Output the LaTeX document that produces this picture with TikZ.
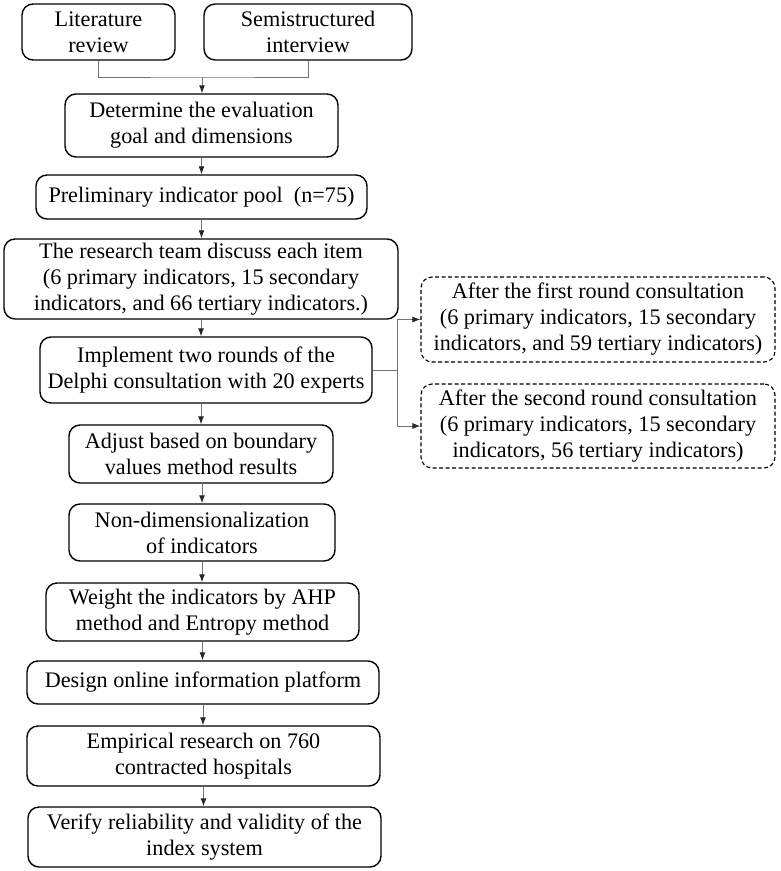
\documentclass[tikz,border=0pt]{standalone}
\usepackage{fontspec}
\setmainfont{Liberation Serif}
\usetikzlibrary{arrows.meta}

\tikzset{
	stage/.style={draw, rounded corners=11pt, line width=1.4pt, inner sep=0pt, align=center,
		font=\fontsize{22.2}{26}\selectfont},
	round/.style={stage, dashed, dash pattern=on 4pt off 2.5pt, line width=1.1pt},
	link/.style={draw=black!55, line width=1pt},
	flow/.style={link, -{Latex[length=8pt,width=6pt,color=black!85]}}
}

\begin{document}
\begin{tikzpicture}[x=1pt, y=-1pt]

	\useasboundingbox (0,0) rectangle (780,871);

	\node[stage, minimum width=153pt, minimum height=56pt] (lit) at (98.5,32) {Literature\\review};
	\node[stage, minimum width=208pt, minimum height=56pt] (semi) at (308,32) {Semistructured\\interview};
	\node[stage, minimum width=273pt, minimum height=63pt] (goal) at (201.5,125.5) {Determine the evaluation\\goal and dimensions};
	\node[stage, minimum width=331pt, minimum height=44pt] (pool) at (201.5,197) {Preliminary indicator pool\enspace(n=75)};
	\node[stage, minimum width=394pt, minimum height=80pt] (team) at (201,279) {The research team discuss each item\\(6 primary indicators, 15 secondary\\indicators, and 66 tertiary indicators.)};
	\node[stage, minimum width=332pt, minimum height=66pt] (delphi) at (206,370) {Implement two rounds of the\\Delphi consultation with 20 experts};
	\node[stage, minimum width=264pt, minimum height=58pt] (adjust) at (201,454) {Adjust based on boundary\\values method results};
	\node[stage, minimum width=266pt, minimum height=57pt] (nondim) at (202,532.5) {Non-dimensionalization\\of indicators};
	\node[stage, minimum width=313pt, minimum height=58pt] (weight) at (202.5,612) {Weight the indicators by AHP\\method and Entropy method};
	\node[stage, minimum width=352pt, minimum height=43pt] (design) at (203,682.5) {Design online information platform};
	\node[stage, minimum width=353pt, minimum height=60pt] (empir) at (203.5,756) {Empirical research on 760\\contracted hospitals};
	\node[stage, minimum width=353pt, minimum height=60pt] (verify) at (204.5,837) {Verify reliability and validity of the\\index system};

	\node[round, minimum width=354pt, minimum height=85pt] (first) at (598,319.5) {After the first round consultation\\(6 primary indicators, 15 secondary\\indicators, and 59 tertiary indicators)};
	\node[round, minimum width=354pt, minimum height=84pt] (second) at (598,426) {After the second round consultation\\(6 primary indicators, 15 secondary\\indicators, 56 tertiary indicators)};

	\coordinate (join) at (202,77);
	\draw[link] (lit.south) |- (join) -| (semi.south);
	\draw[flow] (join) -- (join |- goal.north);

	\draw[flow] (goal.south) -- (goal.south |- pool.north);
	\draw[flow] (pool.south) -- (pool.south |- team.north);
	\draw[flow] (team.south) -- (team.south |- delphi.north);
	\draw[flow] (adjust.north |- delphi.south) -- (adjust.north);
	\draw[flow] (nondim.north |- adjust.south) -- (nondim.north);
	\draw[flow] (nondim.south) -- (nondim.south |- weight.north);
	\draw[flow] (weight.south) -- (weight.south |- design.north);
	\draw[flow] (design.south) -- (design.south |- empir.north);
	\draw[flow] (empir.south) -- (empir.south |- verify.north);

	\coordinate (fork) at (397,370);
	\draw[link] (delphi.east) -- (fork);
	\draw[flow] (fork) |- (first.west);
	\draw[flow] (fork) |- (second.west);

\end{tikzpicture}
\end{document}
